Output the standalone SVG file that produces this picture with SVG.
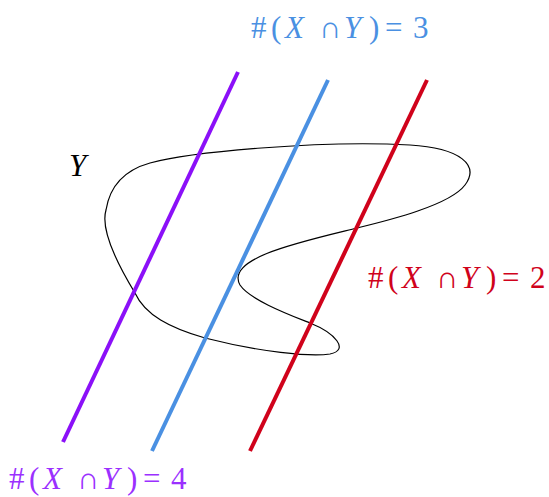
<svg xmlns="http://www.w3.org/2000/svg" width="549" height="497" viewBox="0 0 549 497">
<style>
.lbl{font-family:"Liberation Serif","DejaVu Serif",serif;font-size:31px}
.it{font-style:italic}
.ln{stroke-width:4;stroke-linecap:butt;fill:none}
</style>
<rect width="549" height="497" fill="#fff"/>
<g id="curveY">
<path d="M 150,163 C 190,152 320,140 410,145 C 460,148 480,165 465,185 C 450,205 390,220 357,228 C 300,242 225,258 240,285 C 250,300 290,315 310,323 C 335,333 350,350 330,354 C 310,357 260,352 205,338 C 170,328 145,315 135,293 C 118,265 100,230 106,210 C 110,185 125,170 150,163 Z" fill="none" stroke="#000" stroke-width="1.2"/>
<text class="lbl it" x="69" y="176" fill="#000">Y</text>
</g>
<g id="connectors">
<line id="purple" class="ln" x1="238" y1="72" x2="63" y2="442" stroke="#8b10f8"/>
<line id="blue" class="ln" x1="328" y1="80" x2="152" y2="451" stroke="#4a90e2"/>
<line id="red" class="ln" x1="427" y1="80" x2="250" y2="451" stroke="#d0021b"/>
</g>
<g id="label3">
<text class="lbl" y="38" fill="#4a90e2"><tspan x="251">#</tspan><tspan x="271">(</tspan><tspan class="it" x="285">X</tspan><tspan x="319">∩</tspan><tspan class="it" x="344">Y</tspan><tspan x="369">)</tspan><tspan x="385">=</tspan><tspan x="413">3</tspan></text>
</g>
<g id="label2">
<text class="lbl" y="288" fill="#d0021b"><tspan x="368">#</tspan><tspan x="388">(</tspan><tspan class="it" x="402">X</tspan><tspan x="436">∩</tspan><tspan class="it" x="461">Y</tspan><tspan x="486">)</tspan><tspan x="502">=</tspan><tspan x="530">2</tspan></text>
</g>
<g id="label4">
<text class="lbl" y="489" fill="#9b30ff"><tspan x="9">#</tspan><tspan x="29">(</tspan><tspan class="it" x="43">X</tspan><tspan x="77">∩</tspan><tspan class="it" x="102">Y</tspan><tspan x="127">)</tspan><tspan x="143">=</tspan><tspan x="171">4</tspan></text>
</g>
</svg>
